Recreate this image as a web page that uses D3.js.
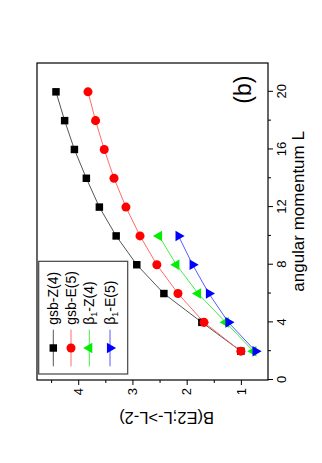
<!DOCTYPE html>
<html>
<head>
<meta charset="utf-8">
<script src="https://cdn.jsdelivr.net/npm/d3@7"></script>
<style>
  body { margin: 0; background: #fff; }
  svg { display: block; font-family: "Liberation Sans", Arial, sans-serif; }
</style>
</head>
<body>
<script>
// angular momentum values
const L = [2, 4, 6, 8, 10, 12, 14, 16, 18, 20];
const Lbeta = [2, 4, 6, 8, 10];

// B(E2; L -> L-2), normalised
const gsbZ4 = [1.0, 1.72, 2.42, 2.92, 3.30, 3.61, 3.85, 4.07, 4.25, 4.41];
const gsbE5 = [1.0, 1.68, 2.16, 2.55, 2.86, 3.12, 3.34, 3.52, 3.68, 3.82];
const betaZ4 = [0.77, 1.28, 1.79, 2.19, 2.51];
const betaE5 = [0.73, 1.23, 1.59, 1.89, 2.15];

const xMajor = [0, 4, 8, 12, 16, 20];
const xMinor = [2, 6, 10, 14, 18];
const yMajor = [1, 2, 3, 4];
const yMinor = [1.5, 2.5, 3.5, 4.5];

const series = [
  { label: "gsb-Z(4)", sub: null, xs: L, ys: gsbZ4, fill: "#000", line: "#555", sym: d3.symbolSquare, size: 56, rot: 0 },
  { label: "gsb-E(5)", sub: null, xs: L, ys: gsbE5, fill: "#ff0000", line: "#ff6b6b", sym: d3.symbolCircle, size: 64, rot: 0 },
  { label: "-Z(4)", sub: "1", xs: Lbeta, ys: betaZ4, fill: "#00ee00", line: "#44ee44", sym: d3.symbolTriangle, size: 48, rot: 0 },
  { label: "-E(5)", sub: "1", xs: Lbeta, ys: betaE5, fill: "#0000ff", line: "#5a5aff", sym: d3.symbolTriangle, size: 48, rot: 180 }
];

const svg = d3.select("body").append("svg")
  .attr("width", 322)
  .attr("height", 463);

svg.append("rect").attr("width", 322).attr("height", 463).attr("fill", "#fff");

// chart is drawn landscape, then turned a quarter turn
const w = 317, h = 231;
const g = svg.append("g").attr("transform", "translate(37,380) rotate(-90)");

const x = d3.scaleLinear().domain([0, 22]).range([0, w]);
const y = d3.scaleLinear().domain([0.5, 4.76]).range([h, 0]);

// x axis (L)
g.append("g")
  .attr("transform", `translate(0,${h})`)
  .call(d3.axisBottom(x).tickValues(xMajor).tickSize(5).tickPadding(3.5).tickFormat(d3.format("d")))
  .call(a => a.select(".domain").remove())
  .call(a => a.selectAll("text").attr("font-size", 13).attr("font-family", "Liberation Sans, Arial"));
g.append("g")
  .attr("transform", `translate(0,${h})`)
  .call(d3.axisBottom(x).tickValues(xMinor).tickSize(3).tickFormat(""))
  .call(a => a.select(".domain").remove());

// y axis (B)
g.append("g")
  .call(d3.axisLeft(y).tickValues(yMajor).tickSize(5).tickPadding(3).tickFormat(d3.format("d")))
  .call(a => a.select(".domain").remove())
  .call(a => a.selectAll("text").attr("font-size", 13).attr("font-family", "Liberation Sans, Arial"));
g.append("g")
  .call(d3.axisLeft(y).tickValues(yMinor).tickSize(3).tickFormat(""))
  .call(a => a.select(".domain").remove());

// frame
g.append("rect")
  .attr("width", w).attr("height", h)
  .attr("fill", "none").attr("stroke", "#000").attr("stroke-width", 1.2);

// axis titles
g.append("text")
  .attr("x", x(11.7)).attr("y", 267)
  .attr("text-anchor", "middle")
  .attr("font-size", 17)
  .text("angular momentum L");

g.append("text")
  .attr("transform", `translate(-31.5,${y(2.37)}) rotate(-90)`)
  .attr("text-anchor", "middle")
  .attr("font-size", 16.5)
  .text("B(E2;L->L-2)");

g.append("text")
  .attr("x", x(20.15)).attr("y", 213.5)
  .attr("text-anchor", "middle")
  .attr("font-size", 23)
  .text("(b)");

// lines and markers
const line = d3.line().x(d => x(d[0])).y(d => y(d[1]));

series.forEach(s => {
  const pts = s.xs.map((v, i) => [v, s.ys[i]]);
  g.append("path")
    .datum(pts)
    .attr("fill", "none")
    .attr("stroke", s.line)
    .attr("stroke-width", 1)
    .attr("d", line);
});

series.forEach(s => {
  const pts = s.xs.map((v, i) => [v, s.ys[i]]);
  g.selectAll(null)
    .data(pts)
    .enter()
    .append("path")
    .attr("transform", d => `translate(${x(d[0])},${y(d[1])}) rotate(${s.rot})`)
    .attr("d", d3.symbol().type(s.sym).size(s.size))
    .attr("fill", s.fill);
});

// legend
const leg = g.append("g").attr("transform", "translate(6,1.7)");
leg.append("rect")
  .attr("width", 112.7).attr("height", 89)
  .attr("fill", "#fff").attr("stroke", "#444").attr("stroke-width", 1.2);

const rows = [14.6, 32.3, 50.6, 71.3];
series.forEach((s, i) => {
  const r = leg.append("g").attr("transform", `translate(0,${rows[i]})`);
  r.append("line")
    .attr("x1", 7.7).attr("x2", 44.3)
    .attr("stroke", s.line).attr("stroke-width", 1);
  r.append("path")
    .attr("transform", `translate(26,0) rotate(${s.rot})`)
    .attr("d", d3.symbol().type(s.sym).size(s.size))
    .attr("fill", s.fill);
  const t = r.append("text")
    .attr("x", 49.3).attr("y", 5);
  t.attr("font-size", 14);
  if (s.sub) {
    t.append("tspan").text("β");
    t.append("tspan").attr("font-size", 9).attr("dy", 3).text(s.sub);
    t.append("tspan").attr("dy", -3).text(s.label);
  } else {
    t.text(s.label);
  }
});
</script>
</body>
</html>
